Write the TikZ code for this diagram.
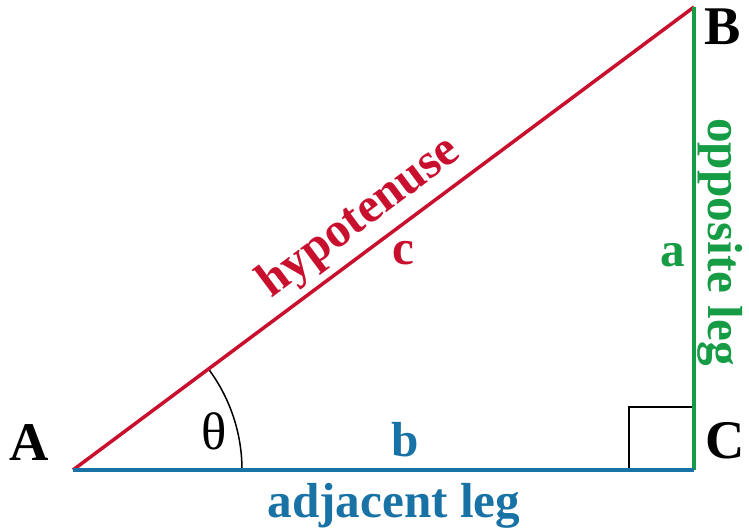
\documentclass[tikz,border=0pt]{standalone}
\usepackage{fontspec}
\setmainfont{Liberation Serif}
\definecolor{hypred}{RGB}{200,16,46}
\definecolor{adjblue}{RGB}{24,114,166}
\definecolor{oppgreen}{RGB}{22,156,68}

\begin{document}
\begin{tikzpicture}[
  vertex/.style={font=\bfseries\fontsize{31}{33}\selectfont,text=black,inner sep=0pt},
  sidelabel/.style={font=\bfseries\fontsize{28}{30}\selectfont,inner sep=0pt},
  side/.style={line width=2pt},
  anglemark/.style={black,line width=0.85pt}
]
\useasboundingbox (0,0) rectangle (14.98,10.62);
\coordinate (A) at (1.46,1.22);
\coordinate (C) at (13.88,1.22);
\coordinate (B) at (13.88,10.48);

% right angle and angle theta
\draw[anglemark] ([xshift=-1.3cm]C) |- ([yshift=1.26cm]C);
\draw[anglemark] ([xshift=3.38cm]A) arc[start angle=0,end angle=36.71,radius=3.38cm];

% the three sides
\draw[side,hypred] (A) -- (B);
\draw[side,oppgreen] (B) -- (C);
\draw[side,adjblue] (A) -- (C);

\node[vertex] (labA) at (0.58,1.76) {A};
\node[vertex] (labB) at (14.46,10.08) {B};
\node[vertex] (labC) at (14.50,1.80) {C};
\node[font=\fontsize{30}{32}\selectfont,inner sep=0pt] (theta) at (4.28,2.00) {θ};

\node[sidelabel,text=adjblue] (labb) at (8.10,1.82) {b};
\node[sidelabel,text=hypred] (labc) at (8.06,5.56) {c};
\node[sidelabel,text=oppgreen] (laba) at (13.46,5.52) {a};

\node[sidelabel,text=hypred,rotate=36.71] (hyp) at (7.20,6.26) {hypotenuse};
\node[sidelabel,text=oppgreen,rotate=-90] (opp) at (14.40,5.78) {opposite leg};
\node[sidelabel,text=adjblue,anchor=base] (adj) at (7.88,0.28) {adjacent leg};
\end{tikzpicture}
\end{document}
